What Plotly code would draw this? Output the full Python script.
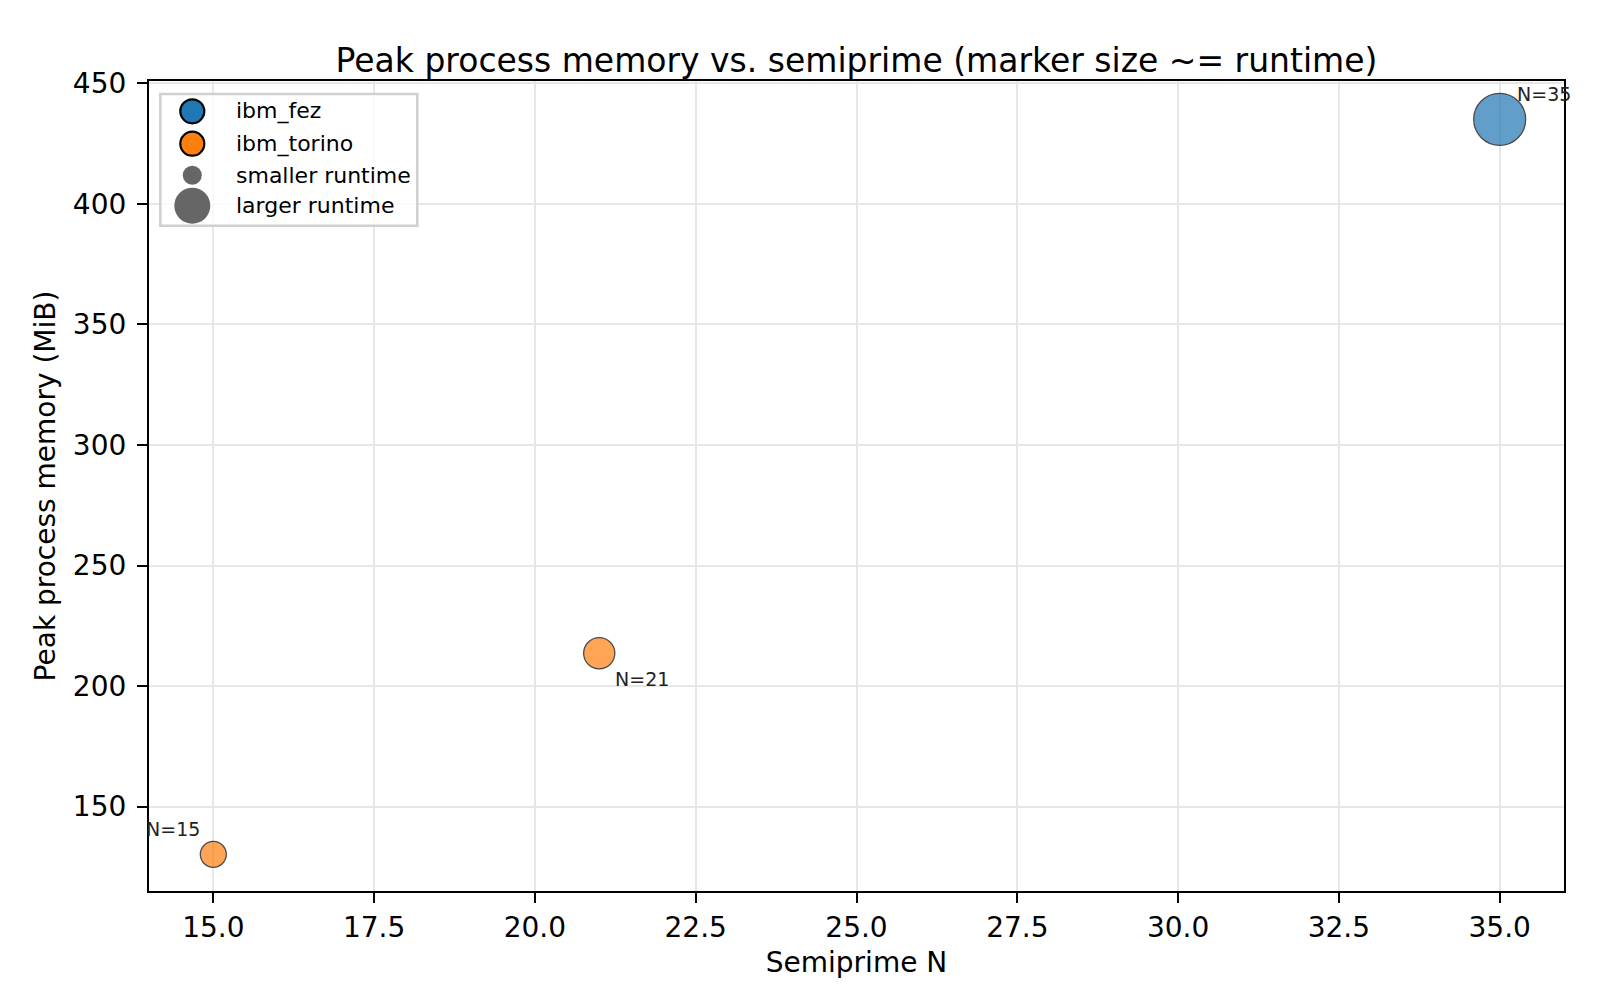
import plotly.graph_objects as go

# data
fez_n = [35]
fez_mem_mib = [435.1]
fez_runtime_s = [100]

torino_n = [15, 21]
torino_mem_mib = [130.2, 213.6]
torino_runtime_s = [25, 36]

x_ticks = [15.0, 17.5, 20.0, 22.5, 25.0, 27.5, 30.0, 32.5, 35.0]
y_ticks = [150, 200, 250, 300, 350, 400, 450]

legend_labels = ["ibm_fez", "ibm_torino", "smaller runtime", "larger runtime"]

BLUE = "#1f77b4"
ORANGE = "#ff7f0e"
FONT = "DejaVu Sans"


def runtime_to_size(rt):
    # marker diameter (px) grows with sqrt(runtime), so area ~ runtime
    return [5.2 * r ** 0.5 for r in rt]


fig = go.Figure()

for name, xs, ys, rt, col in [
    ("ibm_fez", fez_n, fez_mem_mib, fez_runtime_s, BLUE),
    ("ibm_torino", torino_n, torino_mem_mib, torino_runtime_s, ORANGE),
]:
    fig.add_trace(go.Scatter(
        x=xs, y=ys, mode="markers", name=name, showlegend=False,
        marker=dict(size=runtime_to_size(rt), color=col, opacity=0.7,
                    line=dict(color="black", width=1.3)),
    ))

# point labels
all_n = fez_n + torino_n
all_mem = fez_mem_mib + torino_mem_mib
label_pos = {35: ("left", "bottom", 15, 12), 21: ("left", "top", 14, -13), 15: ("right", "bottom", -11, 12)}
for n, m in zip(all_n, all_mem):
    xa, ya, dx, dy = label_pos[n]
    fig.add_annotation(x=n, y=m, text=f"N={n}", showarrow=False,
                       xanchor=xa, yanchor=ya, xshift=dx, yshift=dy,
                       font=dict(family=FONT, size=19, color="#222222"))

# hand-made legend (plotly caps legend marker size, so draw it here)
lg_x0, lg_x1, lg_top, lg_bot = 0.008, 0.1896, 0.984, 0.8214
fig.add_shape(type="rect", xref="paper", yref="paper",
              x0=lg_x0, x1=lg_x1, y0=lg_bot, y1=lg_top,
              line=dict(color="#d0d0d0", width=2.5), fillcolor="rgba(255,255,255,0.8)")
row_y = [0.9626, 0.9226, 0.8836, 0.8461]
sym_r = [12, 12, 9.5, 18]
sym_fill = [BLUE, ORANGE, "#666666", "#666666"]
sym_line = ["black", "black", "#666666", "#666666"]
for lab, yy, r, fc, lc in zip(legend_labels, row_y, sym_r, sym_fill, sym_line):
    fig.add_shape(type="circle", xref="paper", yref="paper",
                  xsizemode="pixel", ysizemode="pixel",
                  xanchor=0.0306, yanchor=yy, x0=-r, x1=r, y0=-r, y1=r,
                  fillcolor=fc, line=dict(color=lc, width=2.2 if lc == "black" else 0))
    fig.add_annotation(xref="paper", yref="paper", x=0.0601, y=yy, text=lab,
                       showarrow=False, xanchor="left", yanchor="middle",
                       font=dict(family=FONT, size=22, color="black"))

axis_common = dict(
    showline=True, linecolor="black", linewidth=2.2, mirror=True,
    ticks="outside", ticklen=10, tickwidth=2.2, tickcolor="black",
    showgrid=True, gridcolor="#e7e7e7", gridwidth=2,
    zeroline=False, tickfont=dict(family=FONT, size=28, color="black"),
)

fig.update_xaxes(range=[14, 36], tickvals=x_ticks, tickformat=".1f",
                 title=dict(text="Semiprime N", font=dict(family=FONT, size=28, color="black"), standoff=10),
                 **axis_common)
fig.update_yaxes(range=[115.0, 451.0], tickvals=y_ticks, ticklabelstandoff=5,
                 title=dict(text="Peak process memory (MiB)", font=dict(family=FONT, size=28, color="black"), standoff=9),
                 **axis_common)

fig.update_layout(
    width=1600, height=1000,
    margin=dict(l=141, r=44, t=73, b=117),
    paper_bgcolor="white", plot_bgcolor="white",
    title=dict(text="Peak process memory vs. semiprime (marker size ~= runtime)",
               x=0.5, xref="paper", y=0.936, yref="container", yanchor="bottom",
               font=dict(family=FONT, size=33, color="black")),
    showlegend=False,
)

fig.write_html("out.html")
